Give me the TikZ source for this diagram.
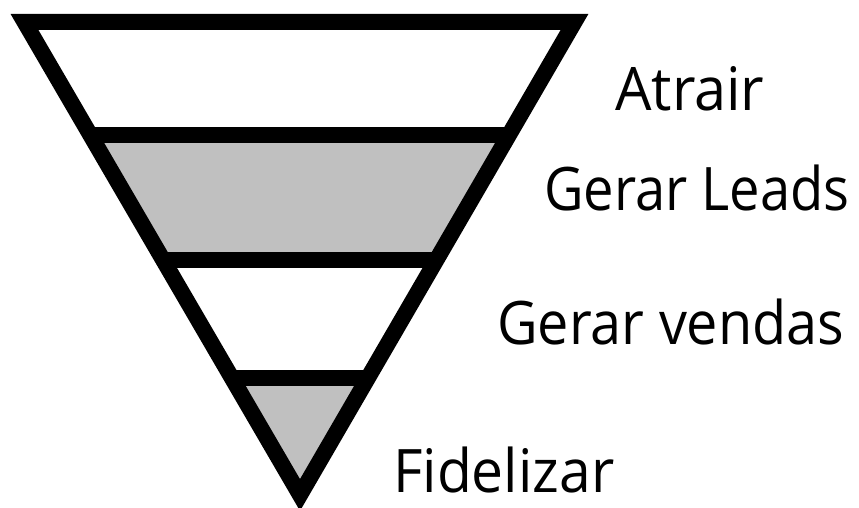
\documentclass[tikz,border=0pt]{standalone}
\usepackage{fontspec}
\setmainfont[FakeStretch=0.96]{Open Sans}
\newfontfamily\fleads[FakeStretch=0.905]{Open Sans}
\newfontfamily\fvendas[FakeStretch=0.93]{Open Sans}
\newfontfamily\ffidel[FakeStretch=0.95]{Open Sans}
\begin{document}
\begin{tikzpicture}[x=1pt,y=1pt,
  edge/.style={line width=16pt, line join=miter, miter limit=10},
  band/.style={fill={rgb,255:red,192;green,192;blue,192}},
  lbl/.style={anchor=base west, inner sep=0pt, font=\fontsize{60}{60}\selectfont}]
\useasboundingbox (0,0) rectangle (859,508);
% centre-line corners (y flipped: tikz y = 508 - image y)
\coordinate (A) at (24.5,486);
\coordinate (B) at (574.5,486);
\coordinate (C) at (300,13);
\coordinate (L1) at (90.3,373);
\coordinate (R1) at (508.7,373);
\coordinate (L2) at (163,248);
\coordinate (R2) at (436,248);
\coordinate (L3) at (231.7,130);
\coordinate (R3) at (367.3,130);
\fill[band] (L1) -- (R1) -- (R2) -- (L2) -- cycle;
\fill[band] (L3) -- (R3) -- (C) -- cycle;
\draw[edge] (A) -- (B) -- (C) -- cycle;
\draw[edge] (L1) -- (R1);
\draw[edge] (L2) -- (R2);
\draw[edge] (L3) -- (R3);
\node[lbl] (t1) at (615,397) {Atrair};
\node[lbl] (t2) at (544,297) {\fleads Gerar Leads};
\node[lbl] (t3) at (497,163) {\fvendas Gerar vendas};
\node[lbl] (t4) at (393,15) {\ffidel Fidelizar};
\end{tikzpicture}
\end{document}
